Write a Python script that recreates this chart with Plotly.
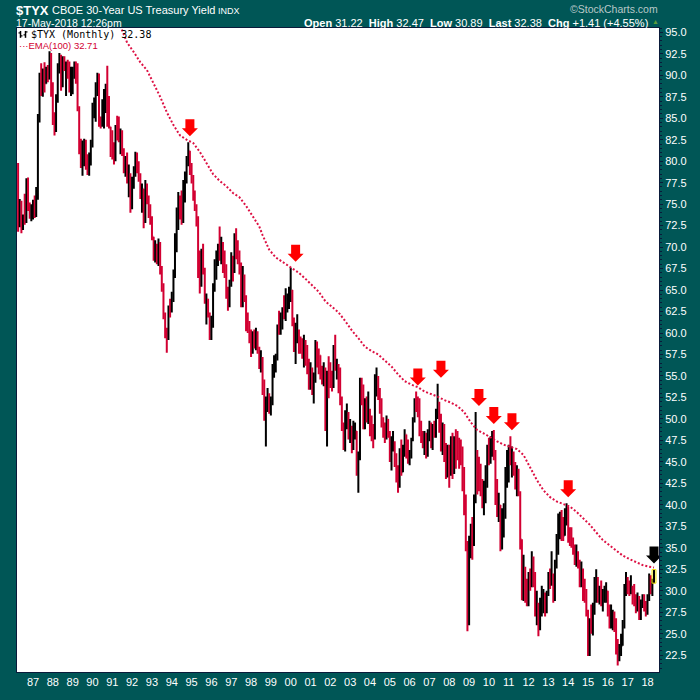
import plotly.graph_objects as go
import pandas as pd

# $TYX monthly bars, Apr 1986 .. May 2018 (one row per calendar year)
highs = [
    79.8, 75.6, 75.4, 73.8, 76.2, 78.0, 78.1, 75.2, 75.0,
    75.5, 76.0, 77.0, 85.5, 90.3, 91.4, 90.8, 91.5, 91.0, 91.2, 92.8, 92.6,
    89.2, 85.7, 87.8, 91.4, 92.6, 92.4, 92.2, 92.2, 91.6, 91.8, 91.6, 91.0,
    91.0, 91.6, 91.6, 91.4, 86.4, 82.6, 82.4, 82.6, 82.5, 80.8, 81.0, 82.5,
    86.8, 87.4, 89.2, 90.3, 90.2, 85.2, 87.2, 88.4, 89.0, 91.1, 87.6, 84.0,
    83.6, 82.2, 84.2, 85.3, 85.2, 83.8, 83.6, 81.5, 80.6, 81.0, 79.6, 78.6,
    78.2, 79.4, 81.1, 81.0, 80.0, 78.6, 77.4, 76.8, 77.8, 77.4, 76.0, 75.0,
    73.6, 71.2, 70.8, 70.4, 71.0, 70.6, 67.8, 65.8, 62.4, 60.6, 63.2, 64.0,
    64.8, 67.4, 71.6, 74.6, 76.4, 76.0, 76.6, 77.8, 78.8, 80.6, 82.2, 81.2,
    79.8, 78.4, 76.6, 75.0, 73.6, 69.6, 69.8, 70.4, 67.6, 64.6, 64.0, 62.4,
    62.0, 65.8, 68.6, 69.6, 70.4, 72.4, 71.2, 70.6, 69.6, 68.0, 65.4, 66.2,
    69.4, 69.0, 71.6, 72.2, 70.8, 69.6, 68.2, 67.8, 66.8, 64.4, 62.4, 61.4,
    60.4, 60.2, 60.4, 60.6, 60.2, 58.4, 58.0, 57.2, 54.6, 52.6, 53.6, 53.0,
    52.6, 56.4, 57.4, 57.6, 61.0, 62.6, 62.4, 63.0, 64.4, 65.2, 64.6, 65.4,
    67.6, 65.0, 61.8, 61.2, 62.2, 60.4, 59.6, 59.4, 59.8, 59.2, 58.6, 57.0,
    56.6, 56.0, 55.4, 59.2, 59.0, 58.2, 57.4, 56.2, 56.6, 56.0, 55.6, 57.3,
    56.6, 55.6, 58.6, 59.8, 57.0, 56.4, 56.0, 52.6, 49.6, 51.0, 51.8, 50.8,
    50.0, 49.2, 49.8, 49.6, 48.6, 46.2, 54.8, 54.8, 54.0, 52.4, 52.6, 53.2,
    51.2, 50.4, 49.4, 55.2, 56.0, 55.0, 53.6, 52.4, 50.2, 49.6, 50.4, 50.0,
    48.6, 48.0, 48.6, 47.4, 46.0, 44.6, 46.6, 47.6, 47.0, 48.8, 48.2, 47.6,
    46.4, 47.8, 50.2, 52.4, 53.2, 52.6, 52.4, 49.8, 48.6, 48.6, 48.4, 48.8,
    49.8, 49.6, 49.4, 49.8, 51.2, 54.1, 52.0, 50.6, 49.6, 49.4, 47.2, 47.0,
    47.0, 48.0, 48.4, 48.0, 48.8, 48.6, 47.8, 47.6, 46.8, 44.4, 41.2, 35.8,
    36.4, 37.8, 38.6, 41.2, 50.8, 46.4, 45.6, 44.8, 43.0, 42.8, 44.6, 47.0,
    47.8, 48.0, 48.6, 48.7, 46.4, 43.0, 41.4, 40.0, 39.6, 40.2, 44.4, 46.4,
    47.0, 48.0, 46.8, 46.2, 45.0, 44.6, 44.2, 41.6, 36.0, 34.2, 32.8, 31.4,
    32.2, 32.6, 34.6, 34.0, 32.2, 30.0, 28.6, 29.2, 30.6, 30.2, 29.8, 30.0,
    32.2, 32.6, 34.6, 32.0, 33.6, 36.6, 39.0, 39.2, 39.4, 38.6, 39.6, 40.2,
    39.8, 37.4, 37.4, 36.2, 35.4, 35.4, 34.6, 33.6, 33.4, 32.6, 31.4, 30.2,
    27.8, 26.8, 28.4, 28.6, 31.6, 32.5, 31.6, 30.6, 31.2, 30.2, 30.6, 31.0,
    30.0, 28.4, 28.4, 27.8, 27.6, 26.8, 24.4, 23.8, 25.0, 26.6, 30.8, 32.2,
    31.6, 31.2, 31.8, 30.6, 30.8, 29.6, 29.8, 29.4, 29.0, 29.6, 29.6, 28.8,
    29.6, 32.0, 31.8, 31.4, 32.47,
]
lows = [
    71.8, 72.3, 71.6, 72.0, 72.6, 72.8, 74.2, 73.3, 73.0,
    73.2, 73.4, 73.5, 75.5, 84.5, 87.6, 87.5, 88.0, 89.0, 89.2, 89.5, 87.5,
    84.2, 83.0, 83.4, 86.8, 90.2, 88.2, 88.6, 90.5, 87.6, 89.6, 88.0, 87.6,
    87.8, 89.6, 89.0, 85.8, 80.8, 79.2, 78.3, 79.4, 79.0, 78.4, 78.3, 79.5,
    81.6, 85.0, 84.6, 87.6, 84.0, 83.8, 84.0, 83.8, 85.6, 84.0, 83.8, 80.5,
    80.2, 79.6, 80.0, 82.4, 82.2, 80.8, 80.6, 78.6, 78.2, 77.4, 75.8, 74.0,
    74.4, 76.8, 78.2, 78.6, 77.6, 75.6, 74.0, 72.2, 72.8, 75.0, 73.4, 72.6,
    70.8, 68.4, 68.2, 68.0, 67.8, 66.8, 64.8, 61.6, 59.4, 57.7, 59.2, 61.8,
    62.4, 63.6, 66.4, 69.4, 72.0, 73.2, 72.6, 72.8, 75.2, 77.4, 79.4, 78.4,
    77.4, 75.4, 74.2, 72.4, 66.4, 64.6, 65.4, 66.8, 63.4, 61.0, 61.8, 59.2,
    59.2, 60.6, 64.8, 66.2, 67.8, 68.4, 68.0, 67.0, 66.4, 64.0, 62.6, 63.0,
    65.4, 66.0, 67.0, 68.6, 68.0, 66.8, 63.0, 63.0, 63.6, 60.2, 60.0, 58.8,
    57.2, 57.6, 58.2, 58.0, 57.6, 55.8, 55.4, 52.8, 49.8, 46.8, 50.8, 50.6,
    50.4, 51.6, 54.8, 55.4, 56.8, 59.8, 59.8, 60.4, 61.6, 61.4, 62.4, 62.8,
    63.6, 60.8, 57.8, 56.4, 58.8, 57.6, 57.6, 57.0, 56.0, 56.2, 55.2, 53.4,
    53.4, 52.8, 51.8, 54.2, 56.0, 55.2, 54.6, 54.0, 53.8, 48.6, 46.8, 52.4,
    53.6, 53.2, 53.6, 55.6, 54.6, 53.0, 51.6, 48.6, 46.4, 46.2, 48.8, 47.6,
    47.2, 46.0, 46.4, 47.6, 43.4, 41.4, 45.2, 51.6, 48.8, 48.8, 49.6, 49.4,
    48.0, 47.4, 46.6, 47.6, 52.6, 52.2, 50.6, 49.0, 47.8, 47.2, 47.6, 47.8,
    45.0, 44.0, 46.2, 44.4, 42.6, 41.4, 42.0, 43.4, 43.8, 45.6, 45.4, 44.8,
    44.6, 45.4, 47.4, 49.6, 50.8, 50.2, 48.0, 47.2, 46.6, 45.8, 45.4, 45.6,
    47.4, 46.6, 46.4, 47.8, 47.8, 50.0, 48.4, 46.2, 45.8, 45.0, 43.0, 43.2,
    42.0, 43.4, 43.0, 43.6, 44.2, 45.2, 44.2, 44.6, 41.6, 38.8, 34.6, 25.3,
    26.0, 33.8, 33.6, 35.2, 40.2, 41.2, 41.6, 41.0, 39.6, 38.8, 40.2, 42.0,
    44.6, 44.8, 45.6, 45.2, 40.0, 38.6, 38.0, 34.6, 34.8, 36.2, 38.4, 42.0,
    42.6, 44.6, 43.2, 43.4, 41.8, 41.0, 41.0, 34.8, 28.9, 28.8, 28.6, 28.2,
    28.2, 30.0, 30.4, 30.4, 27.0, 26.0, 24.7, 25.4, 27.0, 27.4, 27.0, 27.4,
    29.4, 30.2, 30.6, 28.6, 28.8, 32.6, 34.2, 36.0, 35.8, 35.8, 36.4, 37.6,
    35.6, 35.2, 35.0, 34.2, 33.0, 32.8, 32.6, 30.4, 30.4, 28.8, 28.6, 27.0,
    22.4, 22.4, 25.0, 24.8, 27.2, 28.6, 28.6, 28.4, 28.2, 27.6, 28.6, 28.6,
    27.0, 25.6, 25.6, 25.4, 25.2, 22.6, 21.3, 21.8, 22.4, 23.6, 25.6, 29.4,
    29.6, 29.4, 29.6, 28.4, 28.2, 27.4, 27.6, 26.6, 26.6, 28.0, 27.6, 27.0,
    27.2, 28.8, 29.6, 29.4, 30.89,
]
closes = [
    73.5, 75.2, 72.5, 73.4, 73.0, 77.6, 74.8, 73.6, 74.2,
    74.5, 73.8, 76.5, 84.8, 89.5, 88.0, 90.2, 89.0, 90.5, 89.6, 92.2, 88.0,
    84.8, 83.5, 87.0, 90.8, 91.8, 88.8, 91.6, 91.0, 91.2, 90.0, 89.0, 90.2,
    90.6, 91.2, 89.4, 86.2, 81.5, 79.6, 81.6, 82.2, 79.5, 78.8, 80.6, 82.0,
    86.2, 86.8, 88.8, 89.8, 84.6, 84.2, 86.8, 88.0, 88.6, 84.6, 84.0, 81.2,
    81.0, 80.4, 83.8, 83.0, 82.6, 83.2, 81.0, 79.0, 80.2, 77.8, 78.4, 74.6,
    77.8, 78.8, 80.2, 79.0, 78.0, 76.0, 76.8, 73.0, 76.6, 75.6, 74.8, 73.2,
    71.2, 68.8, 69.6, 68.6, 70.2, 67.0, 65.4, 62.0, 60.0, 59.4, 62.8, 62.6,
    63.8, 67.0, 71.0, 73.6, 74.2, 73.6, 73.0, 75.6, 78.4, 80.2, 81.2, 78.8,
    77.8, 75.8, 74.6, 72.8, 67.0, 65.8, 69.0, 67.4, 63.6, 64.0, 62.2, 59.8,
    61.4, 65.2, 67.8, 69.0, 70.0, 69.0, 70.2, 67.4, 66.8, 64.4, 63.2, 65.6,
    68.6, 67.2, 71.0, 69.4, 69.0, 67.6, 63.2, 66.6, 64.0, 61.4, 60.8, 59.4,
    58.6, 59.6, 59.4, 60.0, 58.0, 56.4, 57.0, 53.2, 50.0, 51.4, 52.6, 51.2,
    51.8, 56.0, 56.4, 57.2, 60.8, 60.2, 61.0, 62.2, 61.8, 63.6, 64.0, 64.8,
    65.0, 61.4, 58.4, 59.6, 60.0, 58.6, 57.8, 57.2, 58.8, 57.8, 56.0, 54.6,
    55.2, 53.4, 54.6, 58.4, 57.6, 57.4, 55.2, 54.4, 55.6, 49.0, 55.2, 54.6,
    54.2, 54.0, 58.0, 56.0, 56.2, 55.2, 52.4, 49.2, 46.8, 49.8, 50.4, 47.8,
    48.6, 46.8, 48.4, 48.6, 44.0, 45.6, 53.6, 52.2, 48.9, 51.4, 50.6, 50.8,
    49.0, 48.2, 47.8, 53.8, 54.0, 53.0, 52.2, 49.2, 48.8, 47.8, 50.0, 48.4,
    45.6, 46.6, 47.2, 44.8, 43.0, 42.2, 45.8, 43.8, 46.6, 48.2, 46.6, 45.4,
    45.8, 47.6, 49.8, 52.0, 51.6, 51.4, 49.4, 48.0, 47.0, 47.6, 45.8, 48.4,
    49.2, 46.8, 48.4, 48.2, 50.8, 51.4, 48.8, 47.0, 48.4, 45.6, 43.6, 45.2,
    44.2, 45.4, 44.2, 47.8, 47.4, 46.0, 45.6, 45.0, 43.0, 40.2, 35.0, 27.0,
    35.6, 37.0, 35.6, 40.8, 43.6, 43.0, 42.4, 41.6, 40.4, 42.0, 42.4, 46.4,
    45.0, 46.8, 47.6, 45.6, 42.2, 39.2, 40.0, 35.4, 37.2, 39.6, 42.2, 43.4,
    45.8, 45.2, 45.6, 44.0, 42.4, 43.6, 41.4, 36.0, 29.2, 31.6, 30.0, 28.9,
    31.2, 30.8, 33.6, 31.2, 27.4, 27.8, 25.6, 28.4, 28.6, 29.0, 28.0, 29.6,
    31.8, 31.0, 31.4, 29.0, 33.0, 35.0, 36.6, 37.2, 36.8, 36.4, 38.2, 39.6,
    36.0, 35.8, 35.6, 34.6, 33.4, 34.4, 33.2, 31.0, 32.0, 30.6, 28.9, 27.4,
    22.6, 26.2, 25.6, 27.6, 29.0, 31.2, 29.2, 29.6, 28.6, 29.2, 29.8, 30.0,
    27.6, 26.2, 26.4, 26.8, 26.4, 23.0, 22.2, 23.2, 23.6, 26.0, 30.2, 30.6,
    30.2, 29.8, 30.2, 29.6, 28.6, 28.4, 29.2, 27.2, 28.6, 28.8, 28.2, 27.4,
    29.4, 31.2, 29.8, 31.22, 32.38,
]
first_open = 78.6

# EMA(100)
ema_months = ["1991-04", "1991-10", "1992-02", "1992-06", "1992-10", "1993-02", "1993-06", "1993-10",
              "1994-02", "1994-06", "1994-10", "1995-02", "1995-06", "1995-10", "1996-02", "1996-06",
              "1996-10", "1997-02", "1997-06", "1997-10", "1998-02", "1998-06", "1998-08", "1998-12",
              "1999-04", "1999-08", "2000-01", "2000-06", "2000-10", "2001-02", "2001-06", "2001-10",
              "2002-02", "2002-06", "2002-10", "2003-02", "2003-06", "2003-10", "2004-02", "2004-06",
              "2004-10", "2005-02", "2005-06", "2005-10", "2006-02", "2006-06", "2006-10", "2007-02",
              "2007-06", "2007-10", "2008-02", "2008-06", "2008-10", "2009-02", "2009-06", "2009-10",
              "2010-02", "2010-06", "2010-10", "2011-02", "2011-06", "2011-10", "2012-02", "2012-06",
              "2012-10", "2013-02", "2013-06", "2013-10", "2014-02", "2014-06", "2014-10", "2015-02",
              "2015-06", "2015-10", "2016-02", "2016-06", "2016-10", "2017-02", "2017-06", "2017-10",
              "2018-02", "2018-05"]
ema_values = [96.6, 93.8, 92.7, 91.5, 90.6, 89.0, 87.5, 85.7,
              84.2, 83.0, 82.5, 82.1, 81.1, 79.8, 78.5, 77.7,
              77.1, 76.3, 75.8, 74.8, 73.6, 72.4, 71.4, 69.7,
              68.8, 68.3, 67.6, 67.0, 66.3, 65.5, 64.8, 63.7,
              63.0, 62.4, 61.4, 60.3, 59.4, 58.4, 57.9, 57.5,
              56.8, 56.1, 55.2, 54.4, 54.0, 53.7, 53.2, 52.9,
              52.6, 52.2, 51.9, 51.5, 50.8, 49.6, 48.7, 48.3,
              47.8, 47.4, 47.0, 46.7, 46.5, 45.8, 44.4, 42.9,
              41.7, 40.9, 40.4, 40.1, 39.8, 39.2, 38.5, 37.7,
              36.8, 35.9, 35.3, 34.7, 34.1, 33.7, 33.4, 33.0,
              32.8, 32.71]

# hand-drawn markers where price met the EMA
arrow_months = ["1994-12", "2000-04", "2006-06", "2007-08", "2009-07", "2010-04", "2011-03", "2014-01"]
last_arrow_month = "2018-05"

months = pd.date_range("1986-04-01", periods=len(closes), freq="MS")
opens = [first_open] + closes[:-1]   # monthly bar opens at the prior close

RED = "#d20032"
TEAL = "#005656"
EDGE = "#0a1a3a"
FONT = "Liberation Sans, Arial, sans-serif"

fig = go.Figure()
fig.add_trace(go.Ohlc(
    x=months, open=opens, high=highs, low=lows, close=closes,
    increasing=dict(line=dict(color="black", width=2)),
    decreasing=dict(line=dict(color=RED, width=2)),
    tickwidth=0.25, hoverinfo="skip", showlegend=False))
fig.add_trace(go.Scatter(
    x=pd.to_datetime(ema_months), y=ema_values, mode="lines",
    line=dict(color="#dd1144", width=2, dash="2px,2px"),
    hoverinfo="skip", showlegend=False))

high_s = pd.Series(highs, index=months)


def peak_near(m):
    t = pd.Timestamp(m + "-01")
    win = high_s[(high_s.index >= t - pd.DateOffset(months=3)) & (high_s.index <= t + pd.DateOffset(months=3))]
    return float(win.max())


arrow_path = "M0,6 L8,14 L4.5,14 L4.5,23 L-4.5,23 L-4.5,14 L-8,14 Z"
for m in arrow_months:
    fig.add_shape(type="path", xref="x", yref="y", xsizemode="pixel", ysizemode="pixel",
                  xanchor=m + "-01", yanchor=peak_near(m), path=arrow_path,
                  fillcolor="#ff0000", line=dict(width=0))
fig.add_shape(type="path", xref="x", yref="y", xsizemode="pixel", ysizemode="pixel",
              xanchor=last_arrow_month + "-01", yanchor=peak_near(last_arrow_month), path=arrow_path,
              fillcolor="black", line=dict(width=0))

# yellow box round the current bar
last = months[-1]
fig.add_shape(type="rect", xref="x", yref="y",
              x0=last - pd.Timedelta(days=36), x1=last + pd.Timedelta(days=36),
              y0=lows[-1], y1=highs[-1], line=dict(color="#f0e000", width=1))

# pixel -> paper helpers (plot area is 17..659 x 28..683)
def px(x):
    return (x - 17) / 642


def py(y):
    return 1 - (y - 28) / 655


# legend glyph
for gx, lt, rt in [(20.5, 33, 36), (25.5, 35, 32)]:
    fig.add_shape(type="line", xref="paper", yref="paper", x0=px(gx), x1=px(gx), y0=py(31), y1=py(38),
                  line=dict(color="black", width=1.5))
    fig.add_shape(type="line", xref="paper", yref="paper", x0=px(gx - 2), x1=px(gx), y0=py(lt), y1=py(lt),
                  line=dict(color="black", width=1.2))
    fig.add_shape(type="line", xref="paper", yref="paper", x0=px(gx), x1=px(gx + 2), y0=py(rt), y1=py(rt),
                  line=dict(color="black", width=1.2))


def note(text, x, y, size, color="white", anchor="left", family=FONT):
    fig.add_annotation(text=text, xref="paper", yref="paper", x=px(x), y=py(y),
                       xanchor=anchor, yanchor="middle", showarrow=False,
                       font=dict(family=family, size=size, color=color), borderpad=0)


note("<b>$TYX</b>", 15, 10, 13)
note("CBOE 30-Year US Treasury Yield", 51, 10, 11)
note("INDX", 217, 10.5, 9)
note("17-May-2018 12:26pm", 15, 23, 10.5)
note("\u00a9StockCharts.com", 659, 8.5, 10.5, color="#b8c8c8", anchor="right")
note("<b>Open</b> 31.22\u00a0 <b>High</b> 32.47\u00a0 <b>Low</b> 30.89\u00a0 <b>Last</b> 32.38\u00a0 "
     "<b>Chg</b> +1.41 (+4.55%)", 649, 23, 11, anchor="right")
note("\u25b2", 651, 21.5, 7, color="#5a9a3a")
note("$TYX (Monthly) 32.38", 30, 35, 10, color="black", family="DejaVu Sans Mono, monospace")
note("\u00b7\u00b7\u00b7EMA(100) 32.71", 18, 45.5, 9.5, color=RED)

fig.update_xaxes(type="date", range=["1986-03-12", "2018-08-01"], tickformat="%y", dtick="M12",
                 tick0="1987-01-01", ticks="", showgrid=False, zeroline=False,
                 showline=True, linecolor=EDGE, linewidth=1, mirror=True,
                 tickfont=dict(family=FONT, size=11, color="white"),
                 rangeslider=dict(visible=False))
fig.update_yaxes(side="right", range=[20.55, 95.5], dtick=2.5, tick0=0, tickformat=".1f",
                 ticks="outside", ticklen=3, tickcolor=EDGE, showgrid=False, zeroline=False,
                 showline=True, linecolor=EDGE, linewidth=1, mirror=True,
                 minor=dict(dtick=0.5, ticks="outside", ticklen=2, tickcolor=EDGE),
                 tickfont=dict(family=FONT, size=11, color="white"))
fig.update_layout(width=700, height=700, margin=dict(l=17, r=41, t=28, b=17),
                  paper_bgcolor=TEAL, plot_bgcolor="white", showlegend=False,
                  hovermode=False, font=dict(family=FONT))

fig.write_html("out.html", config={"displayModeBar": False},
               post_script="document.body.style.margin='0';")
